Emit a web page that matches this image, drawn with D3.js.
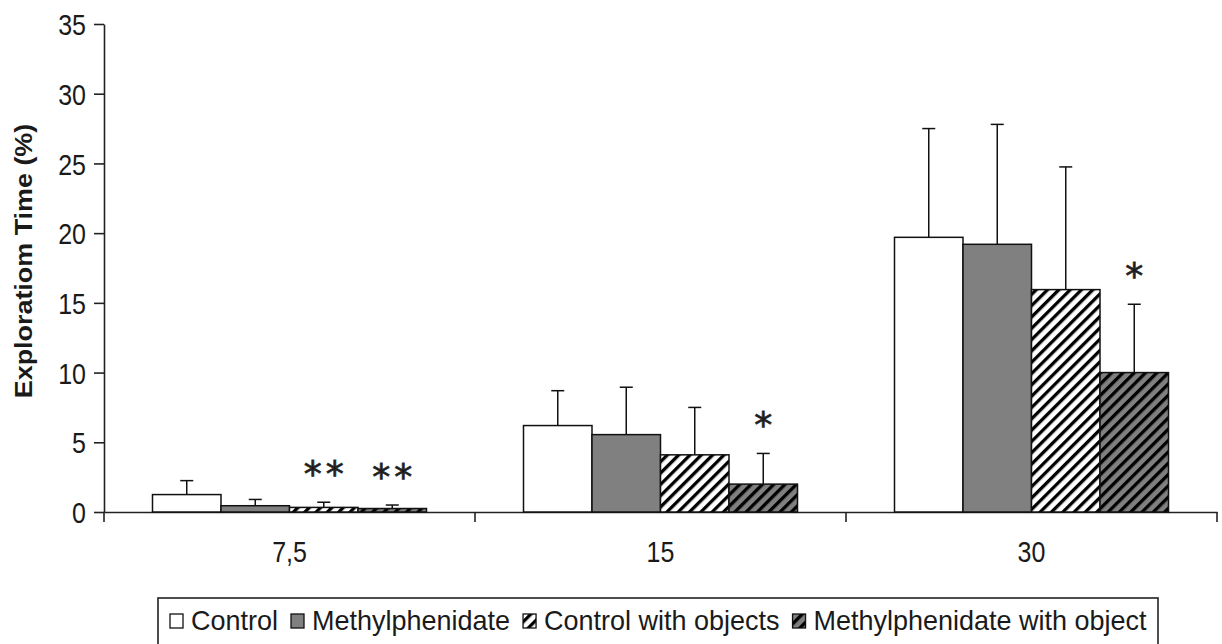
<!DOCTYPE html>
<html>
<head>
<meta charset="utf-8">
<script src="https://cdn.jsdelivr.net/npm/d3@7"></script>
<style>
	body { margin: 0; background: #fff; }
	svg text { font-family: "Liberation Sans", Arial, sans-serif; fill: #1a1a1a; }
</style>
</head>
<body>
<div id="chart"></div>
<script>
let doses		= ["7,5", "15", "30"];
let groups		= ["Control", "Methylphenidate", "Control with objects", "Methylphenidate with object"];
let yTicks		= [0, 5, 10, 15, 20, 25, 30, 35];

// mean exploration time per group, one array per dose
let mean7		= [1.25, 0.45, 0.33, 0.25];
let mean15		= [6.2, 5.55, 4.1, 2.0];
let mean30		= [19.7, 19.2, 15.95, 10.0];

// top of the (upper only) error bar
let err7		= [2.25, 0.9, 0.7, 0.5];
let err15		= [8.7, 8.95, 7.5, 4.2];
let err30		= [27.5, 27.8, 24.75, 14.9];

// significance marks
let marks		= [
	{ dose: "7,5", group: "Control with objects", label: "**" },
	{ dose: "7,5", group: "Methylphenidate with object", label: "**" },
	{ dose: "15", group: "Methylphenidate with object", label: "*" },
	{ dose: "30", group: "Methylphenidate with object", label: "*" }
];

let means		= [mean7, mean15, mean30];
let errs		= [err7, err15, err30];
let data		= [];
doses.forEach((d, i) => groups.forEach((g, j) => data.push({ dose: d, group: g, value: means[i][j], err: errs[i][j] })));

let W = 1222, H = 644;
let stretch	= 1.18;

let svg = d3.select("#chart").append("svg")
	.attr("width", W)
	.attr("height", H);

let defs = svg.append("defs");
function hatch(id, bg) {
	let p = defs.append("pattern")
		.attr("id", id)
		.attr("patternUnits", "userSpaceOnUse")
		.attr("width", 8)
		.attr("height", 8)
		.attr("patternTransform", "rotate(45)");
	p.append("rect").attr("width", 8).attr("height", 8).attr("fill", bg);
	p.append("rect").attr("width", 3.3).attr("height", 8).attr("fill", "#000");
}
hatch("hatch-white", "#fff");
hatch("hatch-grey", "#808080");

let fills = {
	"Control": "#fff",
	"Methylphenidate": "#808080",
	"Control with objects": "url(#hatch-white)",
	"Methylphenidate with object": "url(#hatch-grey)"
};

let x0	= d3.scaleBand().domain(doses).range([104, 1217]);
let x1	= d3.scaleBand().domain(groups).range([0, x0.bandwidth()]).paddingInner(0).paddingOuter(0.708);
let y	= d3.scaleLinear().domain([0, 35]).range([512, 24]);

// y axis
let yAxis = svg.append("g")
	.attr("transform", "translate(104,0)")
	.call(d3.axisLeft(y).tickValues(yTicks).tickSize(10).tickPadding(8).tickSizeOuter(0));
yAxis.select(".domain").attr("stroke", "#222").attr("stroke-width", 1.6);
yAxis.selectAll(".tick line").attr("stroke", "#222").attr("stroke-width", 1.6);
yAxis.selectAll(".tick text")
	.attr("font-size", 25)
	.attr("dy", "0.36em")
	.attr("transform", "scale(1," + stretch + ")")
	.attr("y", 0);

// x axis: labels in the middle of each band, ticks on band edges
let xAxis = svg.append("g")
	.attr("transform", "translate(0,512)")
	.call(d3.axisBottom(x0).tickSize(0).tickSizeOuter(0));
xAxis.select(".domain").attr("stroke", "#222").attr("stroke-width", 1.6);
xAxis.selectAll(".tick text")
	.attr("font-size", 25)
	.attr("dy", 0)
	.attr("y", 42.5)
	.attr("transform", "scale(1," + stretch + ")");

let edges = [x0.range()[0]].concat(doses.map((d) => x0(d) + x0.bandwidth()));
xAxis.selectAll(".edge").data(edges).enter().append("line")
	.attr("class", "edge")
	.attr("x1", (o) => o).attr("x2", (o) => o)
	.attr("y1", 0).attr("y2", 10)
	.attr("stroke", "#222").attr("stroke-width", 1.6);

// y label
svg.append("text")
	.attr("transform", "translate(32,261) rotate(-90) scale(1.17,1)")
	.attr("text-anchor", "middle")
	.attr("font-size", 23)
	.attr("font-weight", "bold")
	.text("Exploratiom Time (%)");

// bars
let bars = svg.append("g").selectAll(".bar").data(data).enter().append("g");
bars.append("rect")
	.attr("x", (o) => x0(o.dose) + x1(o.group))
	.attr("y", (o) => y(o.value))
	.attr("width", x1.bandwidth())
	.attr("height", (o) => y(0) - y(o.value))
	.attr("fill", (o) => fills[o.group])
	.attr("stroke", "#111")
	.attr("stroke-width", 1.5);

let cx = (o) => x0(o.dose) + x1(o.group) + x1.bandwidth() / 2;
bars.append("line")
	.attr("x1", cx).attr("x2", cx)
	.attr("y1", (o) => y(o.value)).attr("y2", (o) => y(o.err))
	.attr("stroke", "#111").attr("stroke-width", 1.5);
bars.append("line")
	.attr("x1", (o) => cx(o) - 6.5).attr("x2", (o) => cx(o) + 6.5)
	.attr("y1", (o) => y(o.err)).attr("y2", (o) => y(o.err))
	.attr("stroke", "#111").attr("stroke-width", 1.5);

// asterisks
let errOf = (m) => data.find((o) => o.dose === m.dose && o.group === m.group).err;
svg.append("g").selectAll("text").data(marks).enter().append("text")
	.attr("x", (m) => cx(m) + 2)
	.attr("y", (m) => y(errOf(m)) - 16)
	.attr("text-anchor", "middle")
	.attr("font-size", 36)
	.attr("letter-spacing", 4)
	.style("font-family", "'DejaVu Sans', sans-serif")
	.style("stroke", "#2a2a2a")
	.style("stroke-width", 0.8)
	.attr("fill", "#2a2a2a")
	.text((m) => m.label);

// legend
let legend = svg.append("g");
legend.append("rect")
	.attr("x", 158).attr("y", 598)
	.attr("width", 1000).attr("height", 52)
	.attr("fill", "#fff").attr("stroke", "#222").attr("stroke-width", 1.6);

let lx = 170;
groups.forEach((g) => {
	legend.append("rect")
		.attr("x", lx).attr("y", 614)
		.attr("width", 13).attr("height", 14)
		.attr("fill", fills[g]).attr("stroke", "#111").attr("stroke-width", 1.3);
	let t = legend.append("text")
		.attr("transform", "translate(" + (lx + 21) + ",630) scale(1,1.04)")
		.attr("font-size", 27)
		.text(g);
	lx += 21 + t.node().getComputedTextLength() + 13;
});
</script>
</body>
</html>
